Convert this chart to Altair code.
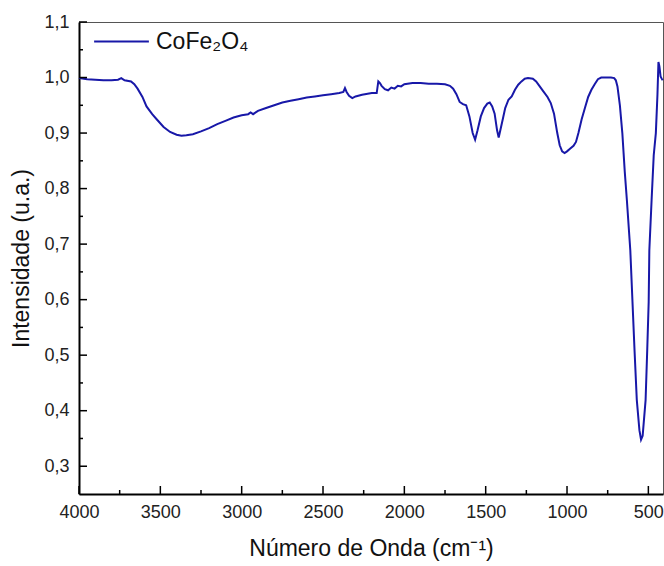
import altair as alt
import pandas as pd

series_name = "CoFe₂O₄"

wavenumber = [
    4000, 3950, 3900, 3850, 3800, 3760, 3740, 3720, 3680, 3660, 3640, 3610,
    3585, 3550, 3520, 3480, 3440, 3400, 3370, 3340, 3300, 3250, 3200, 3150,
    3100, 3050, 3000, 2960, 2945, 2930, 2900, 2850, 2800, 2750, 2700, 2650,
    2600, 2550, 2500, 2450, 2400, 2375, 2365, 2355, 2340, 2320, 2300, 2260,
    2200, 2170, 2160, 2150, 2140, 2120, 2100, 2080, 2060, 2040, 2020, 2000,
    1950, 1900, 1850, 1800, 1750, 1720, 1700, 1680, 1660, 1640, 1620, 1600,
    1580, 1565, 1550, 1530, 1510, 1490, 1475, 1460, 1445, 1430, 1420, 1410,
    1395, 1380, 1360, 1340, 1320, 1300, 1280, 1260, 1240, 1210, 1190, 1170,
    1150, 1120, 1100, 1080, 1060, 1045, 1030, 1015, 1000, 980, 960, 945,
    930, 910, 890, 870, 850, 830, 810, 790, 760, 730, 710, 700, 690, 675,
    660, 645, 632, 611, 585, 571, 555, 545, 535, 517, 507, 498, 494, 480,
    467, 454, 444, 438, 432, 425, 418, 412,
]
intensity = [
    0.999, 0.997, 0.996, 0.995, 0.995, 0.996, 0.999, 0.995, 0.993, 0.988, 0.980, 0.965,
    0.948, 0.934, 0.924, 0.911, 0.902, 0.897, 0.895, 0.896, 0.898, 0.903, 0.909, 0.916,
    0.922, 0.928, 0.932, 0.934, 0.937, 0.934, 0.940, 0.945, 0.950, 0.955, 0.958, 0.961,
    0.964, 0.966, 0.968, 0.970, 0.972, 0.974, 0.981, 0.974, 0.967, 0.963, 0.966, 0.969,
    0.972, 0.972, 0.993, 0.990, 0.985, 0.979, 0.977, 0.982, 0.980, 0.985, 0.984, 0.988,
    0.990, 0.990, 0.989, 0.989, 0.988, 0.985, 0.980, 0.970, 0.956, 0.952, 0.950, 0.930,
    0.900, 0.888, 0.905, 0.930, 0.945, 0.953, 0.955, 0.948, 0.935, 0.905, 0.892, 0.905,
    0.925, 0.945, 0.960, 0.966, 0.978, 0.987, 0.993, 0.998, 0.999, 0.998, 0.993, 0.985,
    0.977, 0.965, 0.954, 0.935, 0.900, 0.878, 0.867, 0.864, 0.867, 0.872, 0.877, 0.884,
    0.900, 0.925, 0.945, 0.965, 0.978, 0.988, 0.997, 1.000, 1.000, 1.000, 0.999, 0.995,
    0.984, 0.950, 0.900, 0.830, 0.779, 0.689, 0.509, 0.419, 0.365, 0.348, 0.355, 0.419,
    0.509, 0.596, 0.689, 0.780, 0.860, 0.900, 0.970, 1.028, 1.020, 1.002, 0.998, 0.995,
]

x_major = [4000, 3500, 3000, 2500, 2000, 1500, 1000, 500]
x_minor = [3750, 3250, 2750, 2250, 1750, 1250, 750]
y_major = [0.3, 0.4, 0.5, 0.6, 0.7, 0.8, 0.9, 1.0, 1.1]
y_minor = [0.35, 0.45, 0.55, 0.65, 0.75, 0.85, 0.95, 1.05]

df = pd.DataFrame({"wn": wavenumber, "v": intensity, "series": series_name})

W, H = 584, 472
FONT = "Liberation Sans, Arial, sans-serif"
BLUE = "#1818a8"

xscale = alt.Scale(domain=[4000, 410], nice=False, zero=False)
yscale = alt.Scale(domain=[0.25, 1.1], nice=False, zero=False)

xaxis = alt.Axis(
    title="Número de Onda (cm⁻¹)", values=x_major, format="d",
    ticks=False, labelFlush=False, labelOverlap=False,
    labelPadding=9, titlePadding=16,
)
yaxis = alt.Axis(
    title="Intensidade (u.a.)", values=y_major,
    labelExpr="replace(format(datum.value, '.1f'), '.', ',')",
    ticks=False, labelOverlap=False, labelPadding=10, titlePadding=10,
)

line = alt.Chart(df).mark_line(strokeWidth=2, color=BLUE).encode(
    x=alt.X("wn:Q", scale=xscale, axis=xaxis),
    y=alt.Y("v:Q", scale=yscale, axis=yaxis),
    color=alt.Color("series:N", scale=alt.Scale(domain=[series_name], range=[BLUE]),
                    legend=alt.Legend(title=None, orient="none", legendX=14, legendY=-9,
                                      symbolType="stroke", symbolSize=3000,
                                      symbolStrokeWidth=2, labelFontSize=23,
                                      labelFont=FONT, labelColor="#111", labelOffset=6)),
)

xt_major = alt.Chart(pd.DataFrame({"t": x_major})).mark_rule(color="black", strokeWidth=1.5).encode(
    x=alt.X("t:Q", scale=xscale, axis=xaxis), y=alt.value(H), y2=alt.value(H - 8))
xt_minor = alt.Chart(pd.DataFrame({"t": x_minor})).mark_rule(color="black", strokeWidth=1.5).encode(
    x=alt.X("t:Q", scale=xscale, axis=xaxis), y=alt.value(H), y2=alt.value(H - 4))
yt_major = alt.Chart(pd.DataFrame({"t": y_major})).mark_rule(color="black", strokeWidth=1.5).encode(
    y=alt.Y("t:Q", scale=yscale, axis=yaxis), x=alt.value(0), x2=alt.value(8))
yt_minor = alt.Chart(pd.DataFrame({"t": y_minor})).mark_rule(color="black", strokeWidth=1.5).encode(
    y=alt.Y("t:Q", scale=yscale, axis=yaxis), x=alt.value(0), x2=alt.value(4))

chart = alt.layer(line, xt_major, xt_minor, yt_major, yt_minor).properties(
    width=W, height=H,
    padding={"left": 79, "top": 22, "right": 1, "bottom": 72},
    autosize=alt.AutoSizeParams(type="none"),
).configure_view(
    stroke="#555", strokeWidth=1,
).configure_axis(
    domainColor="black", domainWidth=2, grid=False,
    labelFont=FONT, labelFontSize=18, labelColor="#222",
    titleFont=FONT, titleFontSize=23, titleFontWeight="normal", titleColor="#111",
)

chart.save("out.html", embed_options={"renderer": "svg", "actions": False})
